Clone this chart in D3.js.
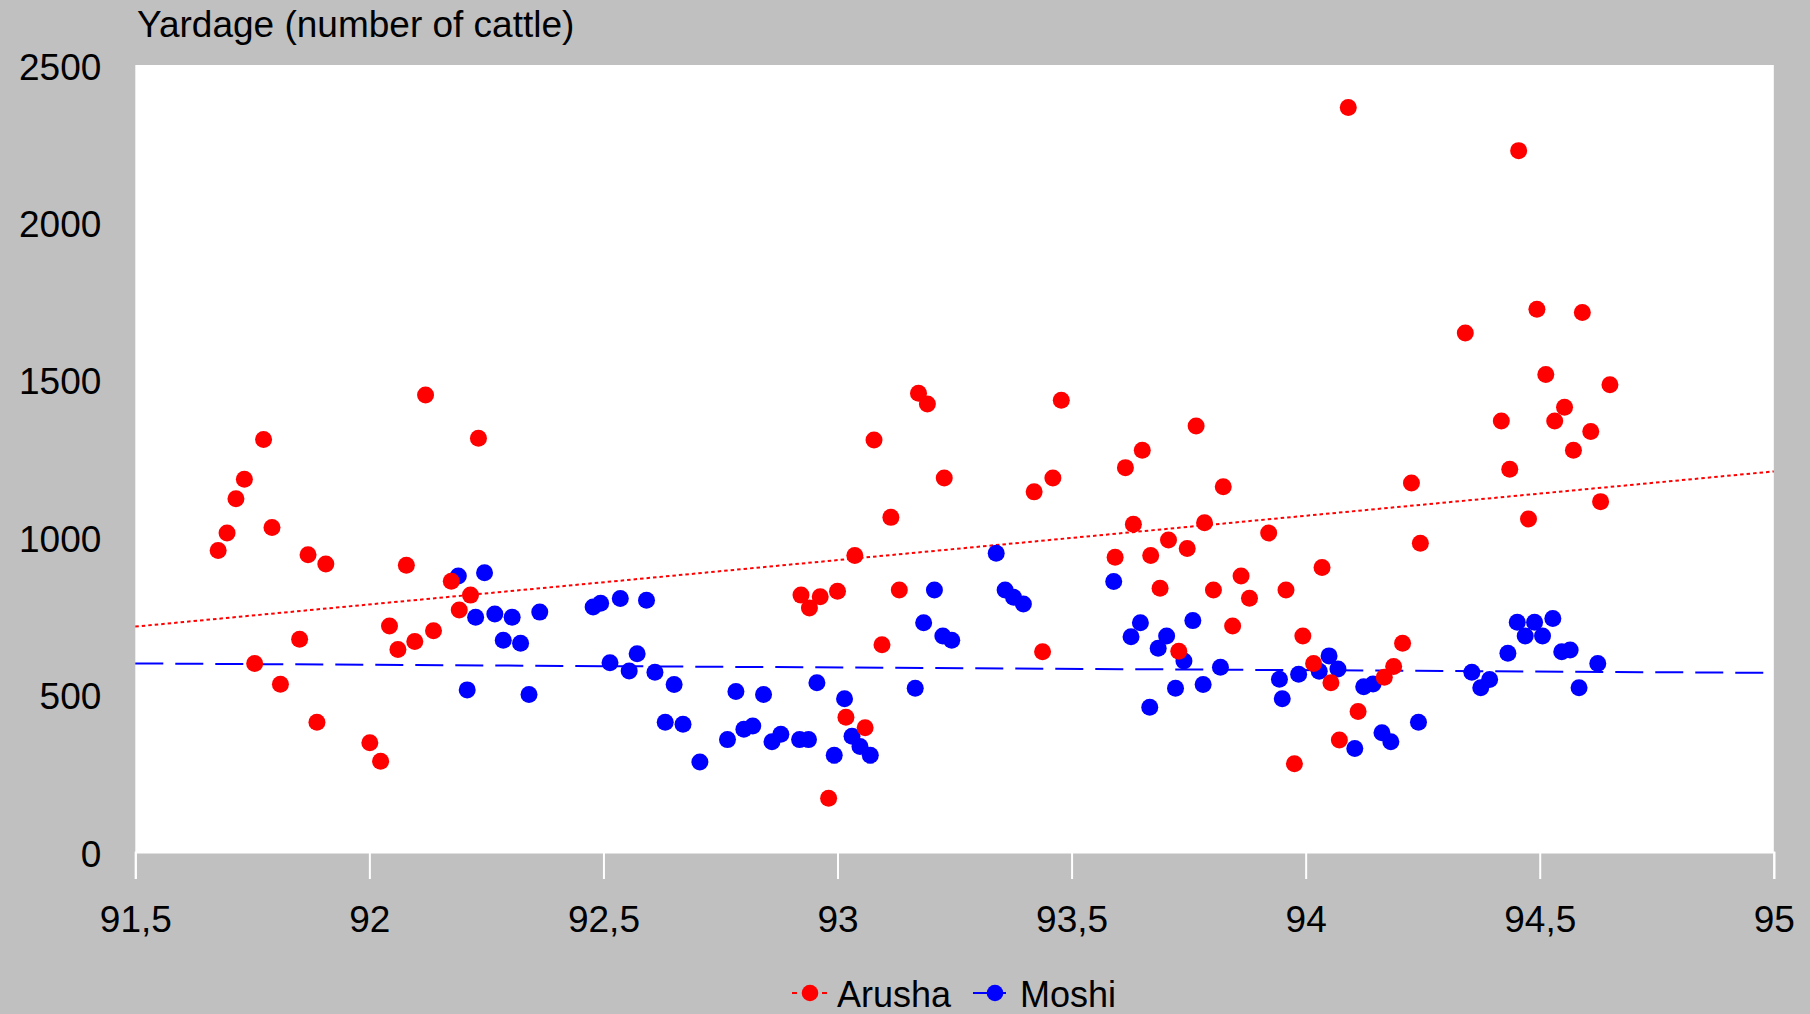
<!DOCTYPE html>
<html>
<head>
<meta charset="utf-8">
<script src="https://cdn.jsdelivr.net/npm/d3@7"></script>
<style>
  html, body { margin: 0; padding: 0; background: #c0c0c0; }
  svg { display: block; }
  text { font-family: "Liberation Sans", Arial, Helvetica, sans-serif; fill: #000; }
</style>
</head>
<body>
<svg id="chart" width="1810" height="1014"></svg>
<script>
// ---- data ----
const arushaX = [91.677, 91.696, 91.715, 91.733, 91.755, 91.774, 91.792, 91.810, 91.851, 91.869, 91.888, 91.907,
  92.001, 92.024, 92.043, 92.061, 92.079, 92.097, 92.120, 92.137, 92.175, 92.192, 92.216, 92.233,
  92.922, 92.940, 92.963, 92.981, 93.000, 93.018, 93.037, 93.059, 93.078, 93.095, 93.114, 93.132, 93.173, 93.192, 93.228,
  93.420, 93.438, 93.460, 93.478,
  93.593, 93.615, 93.632, 93.651, 93.669, 93.689, 93.707, 93.729, 93.747, 93.766, 93.784, 93.803, 93.824, 93.844, 93.862, 93.880,
  93.921, 93.958, 93.976, 93.994, 94.017, 94.035, 94.054, 94.072, 94.091, 94.112, 94.168, 94.188, 94.207, 94.226, 94.245,
  94.341, 94.418, 94.436, 94.455, 94.476, 94.494, 94.513, 94.532, 94.553, 94.572, 94.591, 94.609, 94.630, 94.650];
const arushaY = [958, 1013, 1122, 1184, 599, 1310, 1031, 533, 676, 944, 412, 915,
  347, 288, 718, 643, 911, 669, 1452, 703, 860, 769, 816, 1314,
  816, 775, 811, 171, 828, 428, 942, 395, 1309, 658, 1063, 832, 1457, 1423, 1188,
  1144, 636, 1188, 1435,
  936, 1221, 1041, 1276, 942, 838, 991, 638, 964, 1353, 1046, 832, 1160, 718, 877, 806,
  1013, 832, 280, 686, 599, 904, 538, 356, 2365, 446, 555, 589, 663, 1172, 981,
  1649, 1369, 1216, 2228, 1058, 1724, 1517, 1369, 1413, 1276, 1714, 1336, 1113, 1484];

const moshiX = [92.190, 92.209, 92.227, 92.246, 92.268, 92.286, 92.305, 92.323, 92.341, 92.364,
  92.478, 92.494, 92.514, 92.536, 92.555, 92.572, 92.592, 92.610, 92.632, 92.651, 92.670, 92.706,
  92.765, 92.783, 92.800, 92.819, 92.842, 92.860, 92.879, 92.919, 92.938, 92.956, 92.993, 93.015, 93.031, 93.048, 93.070,
  93.166, 93.184, 93.207, 93.225, 93.244, 93.339, 93.358, 93.376, 93.397,
  93.590, 93.627, 93.647, 93.667, 93.685, 93.703, 93.722, 93.740, 93.759, 93.781, 93.818,
  93.944, 93.950, 93.985, 94.029, 94.050, 94.069, 94.105, 94.124, 94.144, 94.163, 94.182, 94.241,
  94.355, 94.374, 94.393, 94.432, 94.452, 94.469, 94.489, 94.506, 94.528, 94.547, 94.565, 94.584, 94.624];
const moshiY = [877, 515, 746, 887, 756, 673, 746, 663, 500, 762,
  778, 790, 601, 805, 575, 630, 800, 571, 412, 532, 406, 286,
  357, 510, 390, 400, 500, 350, 374, 357, 357, 538, 307, 487, 368, 335, 307,
  520, 728, 832, 686, 673, 949, 832, 809, 788,
  859, 684, 728, 460, 647, 686, 520, 607, 735, 532, 587,
  549, 487, 565, 574, 623, 581, 329, 525, 534, 379, 350, 412,
  571, 522, 548, 631, 730, 686, 730, 686, 742, 636, 642, 522, 599];

// linear trend lines (end points)
const trendX = [91.5, 95];
const arushaTrend = [716, 1209];
const moshiTrend = [599, 569];

const xTicks = [91.5, 92, 92.5, 93, 93.5, 94, 94.5, 95];
const yTicks = [0, 500, 1000, 1500, 2000, 2500];
const seriesNames = ["Arusha", "Moshi"];
const titleText = "Yardage (number of cattle)";

// ---- drawing ----
(function () {
const svg = d3.select("#chart");
const W = 1810, H = 1014;
const pLeft = 135.3, pRight = 1773.8, pTop = 65, pBottom = 852;

svg.append("rect").attr("width", W).attr("height", H).attr("fill", "#c0c0c0");

const x = d3.scaleLinear().domain([91.5, 95]).range([pLeft, pRight]);
const y = d3.scaleLinear().domain([0, 2500]).range([pBottom, pTop]);

svg.append("rect")
  .attr("x", pLeft).attr("y", pTop)
  .attr("width", pRight - pLeft).attr("height", pBottom - pTop)
  .attr("fill", "#ffffff");

// x axis
const xAxis = svg.append("g")
  .attr("transform", `translate(0,${pBottom})`)
  .call(d3.axisBottom(x).tickValues(xTicks).tickSize(27).tickPadding(27)
    .tickFormat(d => String(d).replace(".", ",")));
xAxis.select(".domain").attr("stroke", "#ffffff").attr("stroke-width", 2);
xAxis.selectAll(".tick line").attr("stroke", "#ffffff").attr("stroke-width", 2);
xAxis.selectAll(".tick text")
  .attr("font-size", 37).attr("font-family", "Liberation Sans, Arial, sans-serif")
  .attr("fill", "#000");

// y axis (labels only)
const yAxis = svg.append("g")
  .attr("transform", `translate(${pLeft},0)`)
  .call(d3.axisLeft(y).tickValues(yTicks).tickSize(0).tickPadding(34).tickFormat(d3.format("d")));
yAxis.select(".domain").remove();
yAxis.selectAll(".tick text")
  .attr("font-size", 37).attr("font-family", "Liberation Sans, Arial, sans-serif")
  .attr("fill", "#000").attr("dy", "0.38em");

// title
svg.append("text")
  .attr("x", 137).attr("y", 37)
  .attr("font-size", 37)
  .text(titleText);

// trend lines
const line = d3.line().x(d => x(d[0])).y(d => y(d[1]));
svg.append("path")
  .datum(trendX.map((v, i) => [v, moshiTrend[i]]))
  .attr("d", line).attr("fill", "none")
  .attr("stroke", "#0000ff").attr("stroke-width", 2)
  .attr("stroke-dasharray", "28,12");
svg.append("path")
  .datum(trendX.map((v, i) => [v, arushaTrend[i]]))
  .attr("d", line).attr("fill", "none")
  .attr("stroke", "#ff0000").attr("stroke-width", 2)
  .attr("stroke-dasharray", "3.5,3");

// points: Moshi underneath, Arusha on top
const R = 8.5;
svg.append("g").selectAll("circle")
  .data(moshiX.map((v, i) => [v, moshiY[i]]))
  .join("circle")
  .attr("cx", d => x(d[0])).attr("cy", d => y(d[1])).attr("r", R)
  .attr("fill", "#0000ff");
svg.append("g").selectAll("circle")
  .data(arushaX.map((v, i) => [v, arushaY[i]]))
  .join("circle")
  .attr("cx", d => x(d[0])).attr("cy", d => y(d[1])).attr("r", R)
  .attr("fill", "#ff0000");

// legend
const lg = svg.append("g");
const ly = 993;
lg.append("line").attr("x1", 792).attr("x2", 827).attr("y1", ly).attr("y2", ly)
  .attr("stroke", "#ff0000").attr("stroke-width", 2).attr("stroke-dasharray", "5,25");
lg.append("circle").attr("cx", 810).attr("cy", ly).attr("r", 8.3).attr("fill", "#ff0000");
lg.append("text").attr("x", 837).attr("y", 1007).attr("font-size", 36).text(seriesNames[0]);

lg.append("line").attr("x1", 973).attr("x2", 1006).attr("y1", ly).attr("y2", ly)
  .attr("stroke", "#0000ff").attr("stroke-width", 2);
lg.append("circle").attr("cx", 995).attr("cy", ly).attr("r", 8.3).attr("fill", "#0000ff");
lg.append("text").attr("x", 1020).attr("y", 1007).attr("font-size", 36).text(seriesNames[1]);
})();
</script>
</body>
</html>
